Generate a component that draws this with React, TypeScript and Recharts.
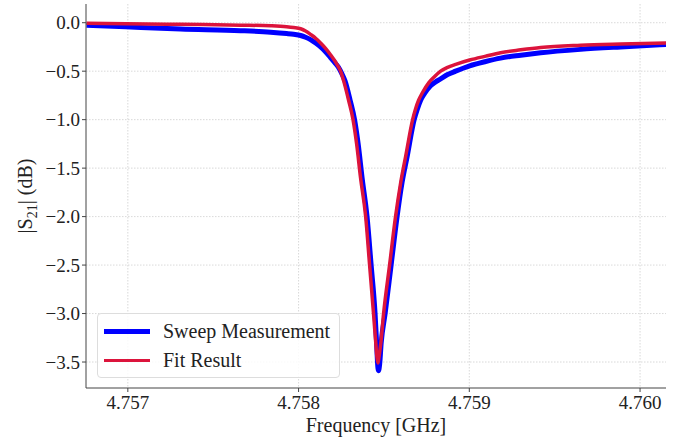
import {
  CartesianGrid,
  Legend,
  Line,
  LineChart,
  XAxis,
  YAxis,
} from "recharts"

// frequency in GHz, |S21| in dB
const sweepFreq = [
  4.756758, 4.756987, 4.757309, 4.75766, 4.757836, 4.75793, 4.757971, 4.758012,
  4.758041, 4.75807, 4.7581, 4.758129, 4.758158, 4.758187, 4.758211, 4.758234,
  4.758252, 4.758272, 4.758302, 4.758328, 4.758349, 4.758372, 4.758401,
  4.758425, 4.758448, 4.758457, 4.758463, 4.758468, 4.758475, 4.758484,
  4.758507, 4.758542, 4.758577, 4.758606, 4.758636, 4.758677, 4.758694,
  4.758715, 4.758738, 4.758773, 4.758803, 4.758832, 4.758873, 4.75892,
  4.759002, 4.759096, 4.759183, 4.759301, 4.759418, 4.759652, 4.759886,
  4.760156,
]
const sweepDb = [
  -0.025, -0.042, -0.065, -0.082, -0.098, -0.112, -0.12, -0.132, -0.15, -0.175,
  -0.21, -0.25, -0.3, -0.36, -0.41, -0.46, -0.52, -0.6, -0.8, -1.0, -1.25,
  -1.6, -2.0, -2.5, -3.0, -3.3, -3.52, -3.59, -3.52, -3.3, -3.0, -2.5, -2.0,
  -1.65, -1.38, -1.0, -0.9, -0.8, -0.73, -0.65, -0.61, -0.58, -0.535, -0.5,
  -0.445, -0.4, -0.365, -0.335, -0.31, -0.275, -0.25, -0.225,
]

const fitFreq = [
  4.756758, 4.756987, 4.757309, 4.75766, 4.757836, 4.75793, 4.757971, 4.758012,
  4.758041, 4.75807, 4.7581, 4.758129, 4.758158, 4.758187, 4.758211, 4.758228,
  4.758246, 4.758264, 4.758293, 4.758319, 4.75834, 4.758363, 4.758393,
  4.758416, 4.758439, 4.758452, 4.758459, 4.758465, 4.758471, 4.758482,
  4.758498, 4.758533, 4.758568, 4.758598, 4.758627, 4.758668, 4.758685,
  4.758703, 4.758726, 4.758762, 4.758797, 4.758832, 4.758873, 4.75892,
  4.759002, 4.759096, 4.759183, 4.759301, 4.759418, 4.759652, 4.759886,
  4.760156,
]
const fitDb = [
  -0.006, -0.01, -0.017, -0.025, -0.032, -0.042, -0.05, -0.062, -0.085, -0.12,
  -0.16, -0.21, -0.265, -0.33, -0.39, -0.44, -0.5, -0.6, -0.8, -1.0, -1.25,
  -1.6, -2.0, -2.5, -3.0, -3.3, -3.45, -3.51, -3.45, -3.3, -3.0, -2.5, -2.0,
  -1.65, -1.38, -1.0, -0.89, -0.8, -0.72, -0.62, -0.555, -0.5, -0.46, -0.43,
  -0.385, -0.345, -0.31, -0.28, -0.255, -0.232, -0.22, -0.21,
]

const xTicks = [4.757, 4.758, 4.759, 4.76]
const yTicks = [0, -0.5, -1.0, -1.5, -2.0, -2.5, -3.0, -3.5]

const sweepData = sweepFreq.map((f, i) => ({ f, db: sweepDb[i] }))
const fitData = fitFreq.map((f, i) => ({ f, db: fitDb[i] }))

const FONT = "'Liberation Serif', 'Times New Roman', serif"
const AXIS = "#444"
const BLUE = "#0000ff"
const RED = "#dc143c"

const fmtY = (v: number) => (v < 0 ? "\u2212" + Math.abs(v).toFixed(1) : v.toFixed(1))

function XLabel({ viewBox }: any) {
  const x = viewBox.x + viewBox.width / 2
  return (
    <text x={x} y={432} textAnchor="middle" fontFamily={FONT} fontSize={20} fill="#222">
      Frequency [GHz]
    </text>
  )
}

function YLabel() {
  return (
    <text
      transform="translate(32,196) rotate(-90)"
      textAnchor="middle"
      fontFamily={FONT}
      fontSize={20}
      fill="#222"
    >
      |S
      <tspan fontSize={14} dy={5}>21</tspan>
      <tspan dy={-5}>| (dB)</tspan>
    </text>
  )
}

function LegendBox() {
  const row = (color: string, width: number, label: string) => (
    <div style={{ display: "flex", alignItems: "center", height: 29 }}>
      <div style={{ width: 46, height: width, background: color, marginRight: 13 }} />
      <span style={{ fontFamily: FONT, fontSize: 20, color: "#222", whiteSpace: "nowrap" }}>
        {label}
      </span>
    </div>
  )
  return (
    <div
      style={{
        width: 243,
        height: 65,
        boxSizing: "border-box",
        border: "1px solid #dddddd",
        borderRadius: 4,
        background: "rgba(255,255,255,0.85)",
        padding: "3px 0 0 6px",
      }}
    >
      {row(BLUE, 5, "Sweep Measurement")}
      {row(RED, 3.5, "Fit Result")}
    </div>
  )
}

export default function App() {
  return (
    <div style={{ position: "absolute", left: 0, top: 0, background: "#fff" }}>
      <LineChart width={681} height={441} margin={{ top: 4, right: 15, bottom: 0, left: 0 }}>
        <CartesianGrid
          stroke="#cfcfcf"
          strokeDasharray="1.5 1.5"
          strokeWidth={0.8}
          horizontalValues={yTicks}
          verticalValues={xTicks}
        />
        <XAxis
          dataKey="f"
          type="number"
          domain={[4.756755, 4.760152]}
          allowDataOverflow
          ticks={xTicks}
          tickFormatter={(v: number) => v.toFixed(3)}
          height={53}
          stroke={AXIS}
          tickSize={4}
          tickMargin={4}
          tick={{ fontFamily: FONT, fontSize: 19, fill: "#222" }}
          label={<XLabel />}
        />
        <XAxis
          xAxisId="top"
          orientation="top"
          dataKey="f"
          type="number"
          domain={[4.756755, 4.760152]}
          height={0}
          tick={false}
          tickLine={false}
          stroke={AXIS}
        />
        <YAxis
          type="number"
          domain={[-3.768, 0.193]}
          allowDataOverflow
          ticks={yTicks}
          tickFormatter={fmtY}
          width={86}
          stroke={AXIS}
          tickSize={4}
          tickMargin={2}
          tick={{ fontFamily: FONT, fontSize: 19, fill: "#222" }}
          label={<YLabel />}
        />
        <YAxis
          yAxisId="right"
          orientation="right"
          type="number"
          domain={[-3.768, 0.193]}
          width={0}
          tick={false}
          tickLine={false}
          stroke={AXIS}
        />
        <Line
          data={sweepData}
          dataKey="db"
          type="monotone"
          stroke={BLUE}
          strokeWidth={5}
          dot={false}
          isAnimationActive={false}
        />
        <Line
          data={fitData}
          dataKey="db"
          type="monotone"
          stroke={RED}
          strokeWidth={3.5}
          dot={false}
          isAnimationActive={false}
        />
        <Legend
          layout="vertical"
          align="center"
          verticalAlign="middle"
          content={<LegendBox />}
          wrapperStyle={{ left: 97, top: 313, width: 243, height: 65 }}
        />
      </LineChart>
    </div>
  )
}
